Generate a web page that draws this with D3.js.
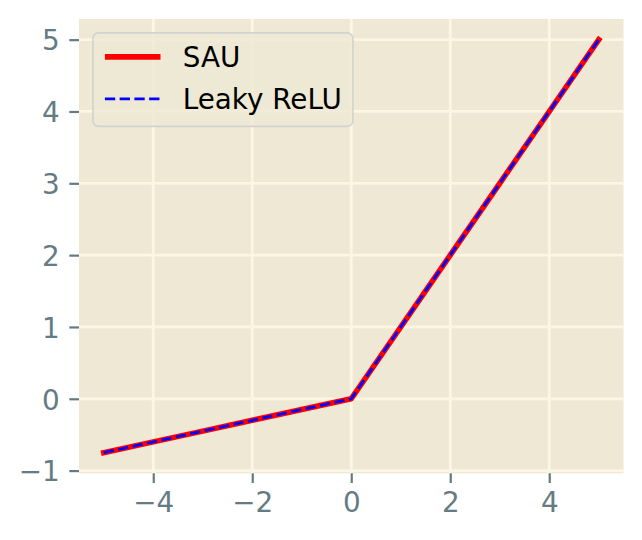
<!DOCTYPE html>
<html>
<head>
<meta charset="utf-8">
<script src="https://cdn.jsdelivr.net/npm/d3@7"></script>
<style>
  body { margin: 0; background: #ffffff; }
  svg { display: block; font-family: "DejaVu Sans", sans-serif; }
</style>
</head>
<body>
<svg id="chart" width="642" height="540"></svg>
<script>
// sample points
const xs = [-5, -4, -3, -2, -1, 0, 1, 2, 3, 4, 5];
const sauValues = [-0.75, -0.6, -0.45, -0.3, -0.15, 0, 1, 2, 3, 4, 5];
const leakyValues = [-0.75, -0.6, -0.45, -0.3, -0.15, 0, 1, 2, 3, 4, 5];
const xTicks = [-4, -2, 0, 2, 4];
const yTicks = [-1, 0, 1, 2, 3, 4, 5];
const seriesNames = ["SAU", "Leaky ReLU"];

const fs = 27.8; // 10pt at 200 dpi
const margin = { top: 19, right: 18.5, bottom: 66.7, left: 79 };
const width = 642, height = 540;

const svg = d3.select('#chart');

const x = d3.scaleLinear().domain([-5.5, 5.5]).range([margin.left, width - margin.right]);
const y = d3.scaleLinear().domain([-1.0375, 5.2875]).range([height - margin.bottom, margin.top]);

const minus = v => String(v).replace('-', '\u2212');

// axes background
svg.append('rect')
    .attr('x', x(-5.5)).attr('y', y(5.2875))
    .attr('width', x(5.5) - x(-5.5))
    .attr('height', y(-1.0375) - y(5.2875))
    .attr('fill', '#eee8d5');

// grid
svg.append('g').selectAll('line').data(xTicks).join('line')
    .attr('x1', d => x(d)).attr('x2', d => x(d))
    .attr('y1', y(5.2875)).attr('y2', y(-1.0375))
    .attr('stroke', '#fdf6e3').attr('stroke-width', 2.78);
svg.append('g').selectAll('line').data(yTicks).join('line')
    .attr('y1', d => y(d)).attr('y2', d => y(d))
    .attr('x1', x(-5.5)).attr('x2', x(5.5))
    .attr('stroke', '#fdf6e3').attr('stroke-width', 2.78);

// x axis
const xAxis = svg.append('g')
    .attr('transform', `translate(0,${y(-1.0375)})`)
    .call(d3.axisBottom(x).tickValues(xTicks).tickSize(9.7).tickPadding(9.7).tickFormat(minus));
xAxis.select('.domain').remove();

// y axis
const yAxis = svg.append('g')
    .attr('transform', `translate(${x(-5.5)},0)`)
    .call(d3.axisLeft(y).tickValues(yTicks).tickSize(9.7).tickPadding(9.7).tickFormat(minus));
yAxis.select('.domain').remove();

svg.selectAll('.tick line').attr('stroke', '#657b83').attr('stroke-width', 2.2);
svg.selectAll('.tick text')
    .attr('fill', '#657b83')
    .style('font-size', fs + 'px')
    .style('font-family', '"DejaVu Sans", sans-serif');
xAxis.selectAll('.tick text').attr('dy', '0.71em');
yAxis.selectAll('.tick text').attr('dy', '0.37em');

// lines
const line = d3.line().x(d => x(d[0])).y(d => y(d[1]));

svg.append('path')
    .datum(xs.map((v, i) => [v, sauValues[i]]))
    .attr('d', line)
    .attr('fill', 'none')
    .attr('stroke', '#ff0000')
    .attr('stroke-width', 5.56)
    .attr('stroke-linejoin', 'round')
    .attr('stroke-linecap', 'square');

svg.append('path')
    .datum(xs.map((v, i) => [v, leakyValues[i]]))
    .attr('d', line)
    .attr('fill', 'none')
    .attr('stroke', '#0000ff')
    .attr('stroke-width', 2.78)
    .attr('stroke-linejoin', 'round')
    .attr('stroke-dasharray', '10.3,4.45');

// legend
const lg = svg.append('g').attr('transform', `translate(${x(-5.5) + 0.5 * fs},${y(5.2875) + 0.5 * fs})`);
lg.append('rect')
    .attr('x', 0).attr('y', 0)
    .attr('width', 260).attr('height', 93.5)
    .attr('rx', 0.2 * fs)
    .attr('fill', '#eee8d5').attr('fill-opacity', 0.8)
    .attr('stroke', '#cccccc').attr('stroke-opacity', 0.8)
    .attr('stroke-width', 1.6);

const rows = lg.selectAll('.row').data(seriesNames).join('g')
    .attr('class', 'row')
    .attr('transform', (d, i) => `translate(0,${24 + i * 42})`);

rows.append('line')
    .attr('x1', 12).attr('x2', 12 + 2 * fs)
    .attr('y1', 0).attr('y2', 0)
    .attr('stroke', (d, i) => i == 0 ? '#ff0000' : '#0000ff')
    .attr('stroke-width', (d, i) => i == 0 ? 5.56 : 2.78)
    .attr('stroke-dasharray', (d, i) => i == 0 ? null : '10.3,4.45');

rows.append('text')
    .attr('x', 12 + 2.8 * fs)
    .attr('y', 10)
    .style('font-size', fs + 'px')
    .attr('fill', '#000000')
    .text(d => d);
</script>
</body>
</html>
